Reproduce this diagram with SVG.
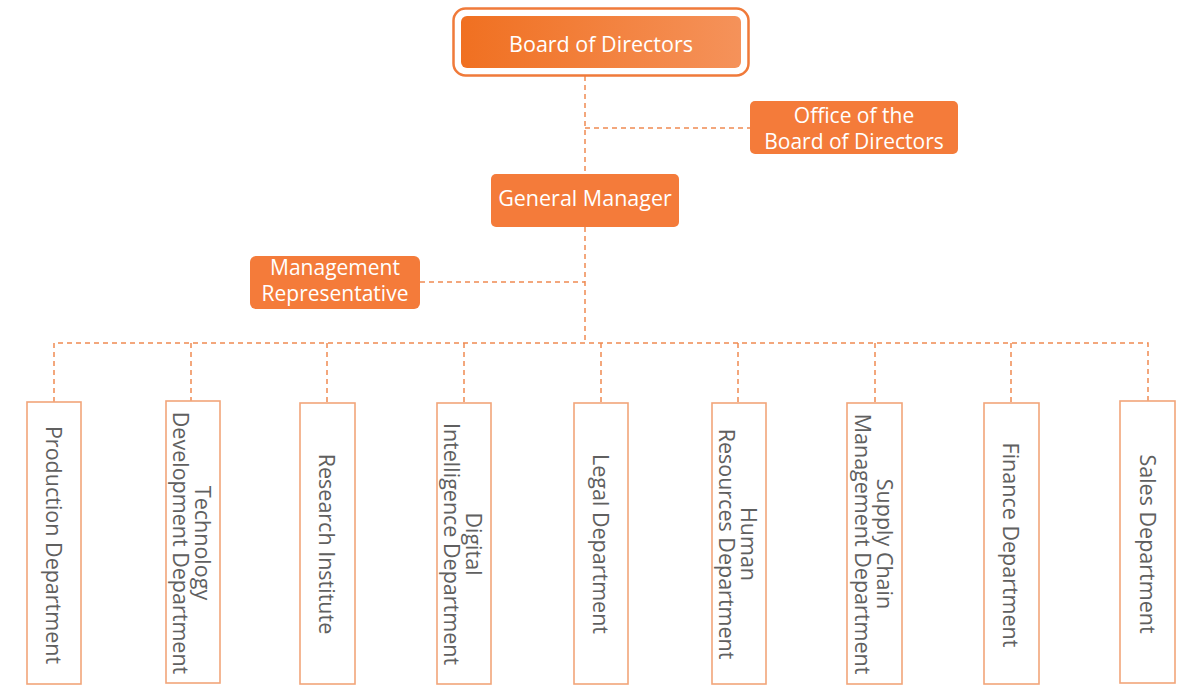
<svg xmlns="http://www.w3.org/2000/svg" width="1195" height="685" viewBox="0 0 1195 685">
<defs>
<linearGradient id="g" x1="0" y1="0" x2="1" y2="0">
<stop offset="0" stop-color="#F07021"/>
<stop offset="1" stop-color="#F5925A"/>
</linearGradient>
</defs>
<style>
.t{font-family:"Open Sans","Noto Sans",sans-serif;font-size:21.5px;fill:#fff;text-anchor:middle;dominant-baseline:central}
.t2{font-size:21px}
.d{font-family:"Open Sans","Noto Sans",sans-serif;font-size:21.5px;fill:#606060;text-anchor:middle;dominant-baseline:central}
.box{fill:#F47B3A}
.dept{fill:#fff;stroke:#F2A57A;stroke-width:1.6}
.c{fill:none;stroke:#F08A52;stroke-width:1.5;stroke-dasharray:5 4}
</style>
<rect width="1195" height="685" fill="#fff"/>
<g id="connectors">
<path class="c" d="M585 76V176"/>
<path class="c" d="M585 128H750"/>
<path class="c" d="M585 227V343"/>
<path class="c" d="M420 282H585"/>
<path class="c" d="M54 402V343H1148V402"/>
<path class="c" d="M191 343V402M327 343V402M464 343V402M601 343V402M738 343V402M875 343V402M1011 343V402"/>
</g>
<g id="board">
<rect x="453.5" y="8.5" width="295" height="67" rx="12" fill="#fff" stroke="#F07A3A" stroke-width="2.5"/>
<rect x="461" y="16" width="280" height="52" rx="6" fill="url(#g)"/>
<text class="t" x="601" y="43">Board of Directors</text>
</g>
<g id="office">
<rect class="box" x="750" y="101" width="208" height="53" rx="5"/>
<text class="t t2" x="854" y="115">Office of the</text>
<text class="t t2" x="854" y="141">Board of Directors</text>
</g>
<g id="gm">
<rect class="box" x="491" y="174" width="188" height="53" rx="5"/>
<text class="t" x="585" y="197">General Manager</text>
</g>
<g id="mr">
<rect class="box" x="250" y="256" width="170" height="53" rx="6"/>
<text class="t t2" x="335" y="267">Management</text>
<text class="t t2" x="335" y="293">Representative</text>
</g>
<g id="production">
<rect class="dept" x="27" y="402" width="54" height="282"/>
<text class="d" transform="translate(54 545) rotate(90)">Production Department</text>
</g>
<g id="technology">
<rect class="dept" x="166" y="401" width="54" height="282"/>
<text class="d" transform="translate(193 543) rotate(90)"><tspan x="0" y="-11">Technology</tspan><tspan x="0" y="11">Development Department</tspan></text>
</g>
<g id="research">
<rect class="dept" x="300" y="403" width="55" height="281"/>
<text class="d" transform="translate(327 544) rotate(90)">Research Institute</text>
</g>
<g id="digital">
<rect class="dept" x="437" y="403" width="54" height="281"/>
<text class="d" transform="translate(464 544) rotate(90)"><tspan x="0" y="-11">Digital</tspan><tspan x="0" y="11">Intelligence Department</tspan></text>
</g>
<g id="legal">
<rect class="dept" x="574" y="403" width="54" height="281"/>
<text class="d" transform="translate(601 544) rotate(90)">Legal Department</text>
</g>
<g id="hr">
<rect class="dept" x="712" y="403" width="54" height="281"/>
<text class="d" transform="translate(739 544) rotate(90)"><tspan x="0" y="-11">Human</tspan><tspan x="0" y="11">Resources Department</tspan></text>
</g>
<g id="supply">
<rect class="dept" x="847" y="403" width="55" height="281"/>
<text class="d" transform="translate(875 544) rotate(90)"><tspan x="0" y="-11">Supply Chain</tspan><tspan x="0" y="11">Management Department</tspan></text>
</g>
<g id="finance">
<rect class="dept" x="984" y="403" width="55" height="281"/>
<text class="d" transform="translate(1011 545) rotate(90)">Finance Department</text>
</g>
<g id="sales">
<rect class="dept" x="1120" y="401" width="55" height="282"/>
<text class="d" transform="translate(1148 544) rotate(90)">Sales Department</text>
</g>
</svg>
